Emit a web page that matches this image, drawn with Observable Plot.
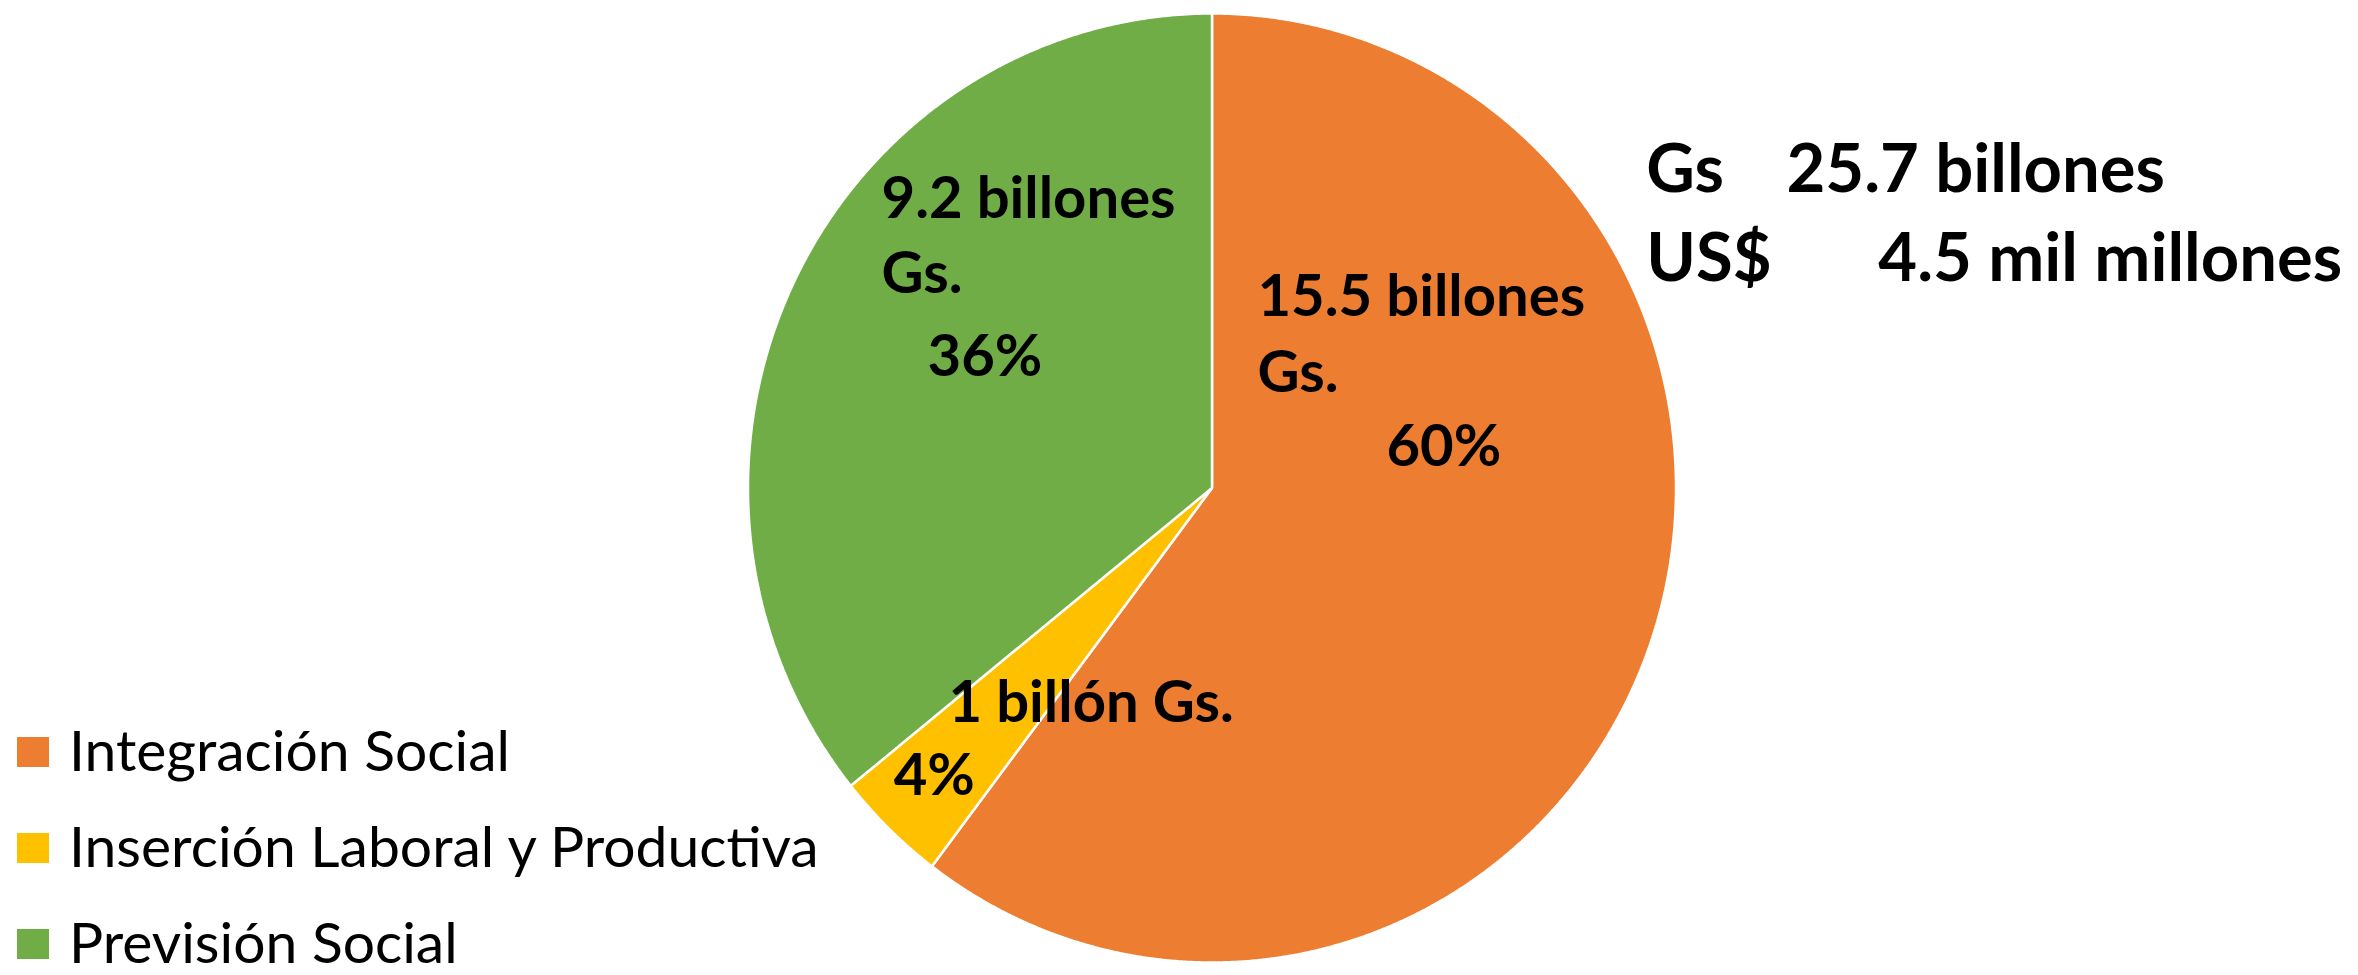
<!DOCTYPE html>
<html><head><meta charset="utf-8">
<script src="https://cdn.jsdelivr.net/npm/d3@7"></script>
<script src="https://cdn.jsdelivr.net/npm/@observablehq/plot@0.6"></script>
<style>
body{margin:0;background:#fff;}
#chart{position:relative;width:2358px;height:975px;}
</style>
</head><body><div id="chart"></div>
<script>
// ---- data ----
const categories = ["Integración Social", "Inserción Laboral y Productiva", "Previsión Social"];
const amountsGs = [15.5, 1, 9.2]; // billones de guaraníes
const amountLines = [["15.5 billones", "Gs."], ["1 billón Gs."], ["9.2 billones", "Gs."]];
const percentLabels = ["60%", "4%", "36%"];
const colors = ["#ED7D31", "#FFC000", "#70AD47"];
const totalCurrencies = ["Gs", "US$"];
const totalAmounts = ["25.7 billones", "4.5 mil millones"];

// ---- layout (unit-circle coordinates, not data) ----
const labelPos = [
  [[0.098, 0.3635], [0.098, 0.203], [0.376, 0.047]],
  [[-0.568, -0.494], [-0.686, -0.648]],
  [[-0.7123, 0.568], [-0.7123, 0.410], [-0.613, 0.237]]
];
const totalPos = {cur: 0.936, amt: [1.238, 1.436], y: [0.6228, 0.437]};

const font = "Lato, 'Open Sans', sans-serif";

// slices
const arcs = d3.pie().sort(null).value(d => d)(amountsGs);
const slicePts = [];
arcs.forEach((a, i) => {
  slicePts.push({cat: categories[i], x: 0, y: 0});
  const n = Math.max(4, Math.ceil((a.endAngle - a.startAngle) / (Math.PI / 720)));
  for (let k = 0; k <= n; k++) {
    const t = a.startAngle + (a.endAngle - a.startAngle) * k / n;
    slicePts.push({cat: categories[i], x: Math.sin(t), y: Math.cos(t)});
  }
});

// labels
const labels = [];
categories.forEach((c, i) => {
  const lines = [...amountLines[i], percentLabels[i]];
  lines.forEach((t, j) => labels.push({text: t, x: labelPos[i][j][0], y: labelPos[i][j][1]}));
});
const totals = [];
totalCurrencies.forEach((c, i) => {
  totals.push({text: c, x: totalPos.cur, y: totalPos.y[i]});
  totals.push({text: totalAmounts[i], x: totalPos.amt[i], y: totalPos.y[i]});
});

const legendMark = (index, scales, values, dim) => {
  const g = d3.create("svg:g").attr("text-anchor", "start");
  categories.forEach((c, i) => {
    const top = 737 + i * 96;
    g.append("rect").attr("x", 17).attr("y", top).attr("width", 32).attr("height", 30).attr("fill", colors[i]);
    g.append("text").attr("x", 69).attr("y", top + 34).attr("font-family", font).attr("font-size", 57)
      .attr("fill", "#000").text(c);
  });
  return g.node();
};

const chart = Plot.plot({
  width: 2358, height: 975,
  margin: 0,
  x: {domain: [-1, 1], range: [747.5, 1675.5], axis: null},
  y: {domain: [-1, 1], range: [962, 13], axis: null},
  color: {domain: categories, range: colors},
  style: {fontFamily: font, background: "#fff"},
  marks: [
    Plot.line(slicePts, {x: "x", y: "y", z: "cat", fill: "cat", stroke: "#fff", strokeWidth: 2.5, curve: "linear-closed", strokeLinejoin: "miter"}),
    Plot.text(labels, {x: "x", y: "y", text: "text", textAnchor: "start", lineAnchor: "bottom", fontSize: 58, fontWeight: "bold", fill: "#000"}),
    Plot.text(totals, {x: "x", y: "y", text: "text", textAnchor: "start", lineAnchor: "bottom", fontSize: 67, fontWeight: "bold", fill: "#000"}),
    legendMark
  ]
});
document.getElementById("chart").appendChild(chart);
</script>
</body></html>
